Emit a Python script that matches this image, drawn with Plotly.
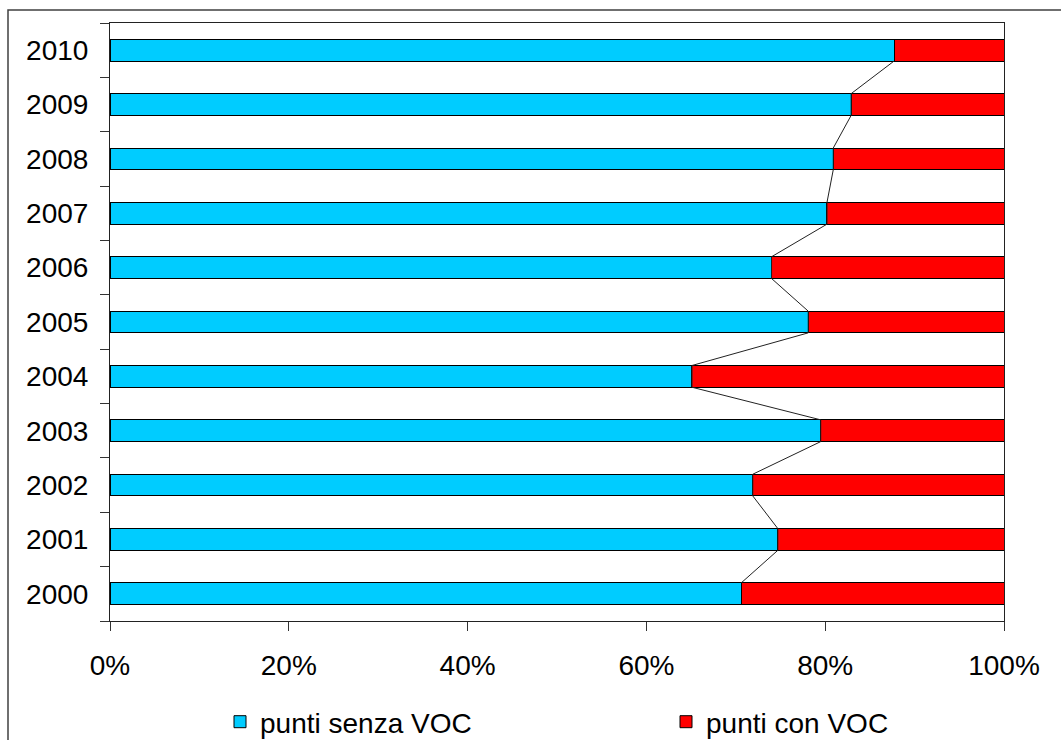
import plotly.graph_objects as go

years = [2000, 2001, 2002, 2003, 2004, 2005, 2006, 2007, 2008, 2009, 2010]
senza_voc = [70.6, 74.7, 71.9, 79.5, 65.1, 78.1, 74.0, 80.2, 80.9, 82.9, 87.7]
con_voc = [round(100 - v, 1) for v in senza_voc]
x_ticks = [0, 20, 40, 60, 80, 100]
x_tick_text = ["0%", "20%", "40%", "60%", "80%", "100%"]

FONT = "Liberation Sans, Arial, sans-serif"
BAR_W = 0.4

fig = go.Figure()
fig.add_trace(go.Bar(
    y=years, x=senza_voc, orientation="h", name="punti senza VOC",
    width=BAR_W, marker=dict(color="#00CCFF", line=dict(color="#000000", width=1)),
    legend="legend",
))
fig.add_trace(go.Bar(
    y=years, x=con_voc, orientation="h", name="punti con VOC",
    width=BAR_W, marker=dict(color="#FF0000", line=dict(color="#000000", width=1)),
    legend="legend2",
))

# series lines (Excel style) joining the ends of the first series
lx, ly = [], []
order = sorted(range(len(years)), key=lambda i: years[i], reverse=True)
for i in order:
    lx += [senza_voc[i], senza_voc[i]]
    ly += [years[i] + BAR_W / 2, years[i] - BAR_W / 2]
lx, ly = lx[1:-1], ly[1:-1]
fig.add_trace(go.Scatter(
    x=lx, y=ly, mode="lines", line=dict(color="#222222", width=1),
    showlegend=False, hoverinfo="skip",
))

legend_common = dict(
    orientation="h", xref="container", yref="container",
    yanchor="middle", y=1 - 722 / 740, xanchor="left",
    font=dict(size=28), itemclick=False, itemdoubleclick=False,
    bgcolor="rgba(0,0,0,0)",
)

fig.update_layout(
    width=1061, height=740,
    margin=dict(l=110, r=57, t=23, b=119, autoexpand=False),
    barmode="stack",
    paper_bgcolor="white", plot_bgcolor="white",
    font=dict(family=FONT, size=28, color="#000000"),
    showlegend=True,
    legend=dict(x=220 / 1061, **legend_common),
    legend2=dict(x=666 / 1061, **legend_common),
    xaxis=dict(
        range=[0, 100], tickvals=x_ticks, ticktext=x_tick_text,
        ticks="outside", ticklen=9, tickcolor="#333333",
        showgrid=False, zeroline=False, showline=True, mirror=True,
        linecolor="#222222", linewidth=1, ticklabelstandoff=10,
    ),
    yaxis=dict(
        range=[1999.5, 2010.5], tickvals=years, ticktext=[str(y) for y in years],
        ticks="", showgrid=False, zeroline=False, showline=True, mirror=True,
        linecolor="#222222", linewidth=1, ticklabelstandoff=15,
        minor=dict(tickvals=[y - 0.5 for y in years] + [2010.5], ticks="outside",
                   ticklen=9, tickcolor="#333333", showgrid=False),
    ),
    shapes=[
        dict(type="rect", xref="paper", yref="paper",
             x0=(8 - 110) / 894, x1=(1100 - 110) / 894,
             y0=(119 - 800) / 598, y1=(740 - 10 - 119) / 598,
             line=dict(color="#404040", width=1.5), fillcolor="rgba(0,0,0,0)", layer="below"),
    ],
)

fig.write_html("out.html")
